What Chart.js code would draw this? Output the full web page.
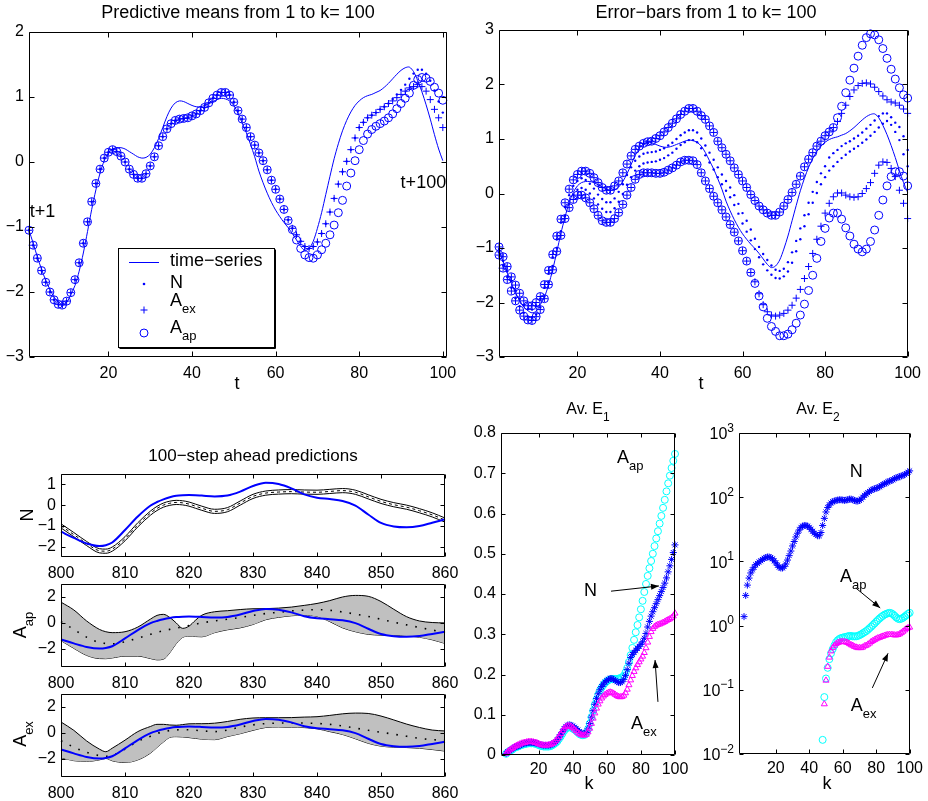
<!DOCTYPE html>
<html>
<head>
<meta charset="utf-8">
<script src="https://cdn.jsdelivr.net/npm/chart.js@4/dist/chart.umd.min.js"></script>
<style>
  body { margin: 0; background: #fff; }
  #wrap { position: relative; width: 928px; height: 801px; }
  #wrap canvas { position: absolute; left: 0; top: 0; }
</style>
</head>
<body>
<div id="wrap">
  <canvas id="predMeans" width="928" height="801"></canvas>
  <canvas id="errBars" width="928" height="801"></canvas>
  <canvas id="stepN" width="928" height="801"></canvas>
  <canvas id="stepAp" width="928" height="801"></canvas>
  <canvas id="stepEx" width="928" height="801"></canvas>
  <canvas id="avE1" width="928" height="801"></canvas>
  <canvas id="avE2" width="928" height="801"></canvas>
</div>
<script>
// ---------- data ----------
const t = Array.from({length: 100}, (_, i) => i + 1);
const tTicks = [20, 40, 60, 80, 100];

const timeSeries = [-1.05,-1.25,-1.46,-1.65,-1.82,-1.96,-2.08,-2.15,-2.19,-2.16,
  -2.04,-1.90,-1.68,-1.40,-1.07,-0.73,-0.43,-0.17,0.02,0.14,
  0.20,0.22,0.22,0.20,0.16,0.12,0.08,0.06,0.07,0.12,
  0.22,0.36,0.53,0.70,0.83,0.91,0.94,0.93,0.90,0.87,
  0.85,0.85,0.87,0.90,0.93,0.96,0.98,0.97,0.94,0.87,
  0.75,0.60,0.45,0.27,0.08,-0.14,-0.32,-0.48,-0.62,-0.74,
  -0.84,-0.93,-1.01,-1.10,-1.20,-1.30,-1.36,-1.33,-1.22,-1.02,
  -0.78,-0.50,-0.22,0.05,0.28,0.48,0.64,0.77,0.87,0.94,
  0.99,1.02,1.04,1.07,1.10,1.15,1.21,1.28,1.35,1.41,
  1.45,1.46,1.39,1.25,1.08,0.88,0.66,0.42,0.20,0.02];

// predictive means, identical for the three models up to t=62
const meanShared = [-1.05,-1.28,-1.48,-1.67,-1.85,-2.00,-2.12,-2.19,-2.20,-2.14,
  -2.01,-1.81,-1.55,-1.25,-0.92,-0.61,-0.33,-0.11,0.06,0.15,
  0.19,0.16,0.09,0.00,-0.11,-0.19,-0.25,-0.25,-0.18,-0.06,
  0.08,0.25,0.39,0.51,0.59,0.64,0.66,0.67,0.68,0.71,
  0.74,0.79,0.84,0.91,0.98,1.03,1.07,1.07,1.03,0.92,
  0.79,0.66,0.53,0.39,0.26,0.14,0.02,-0.12,-0.28,-0.42,
  -0.57,-0.73];
const meanNTail = [-0.89,-1.02,-1.12,-1.22,-1.30,-1.33,-1.30,-1.23,-1.10,-0.95,
  -0.77,-0.56,-0.34,-0.15,0.01,0.19,0.37,0.53,0.61,0.68,
  0.72,0.76,0.81,0.85,0.90,0.97,1.04,1.11,1.19,1.28,
  1.36,1.42,1.42,1.36,1.25,1.10,0.93,0.76];
const meanExTail = [-0.89,-1.02,-1.12,-1.22,-1.30,-1.33,-1.30,-1.23,-1.10,-0.95,
  -0.77,-0.56,-0.34,-0.15,0.01,0.19,0.37,0.53,0.61,0.68,
  0.72,0.76,0.81,0.85,0.90,0.94,0.99,1.04,1.09,1.14,
  1.16,1.19,1.16,1.09,0.96,0.81,0.68,0.53];
const meanApTail = [-0.90,-1.04,-1.20,-1.33,-1.43,-1.47,-1.48,-1.43,-1.35,-1.25,
  -1.12,-0.97,-0.78,-0.59,-0.37,-0.17,0.02,0.19,0.33,0.43,
  0.50,0.55,0.59,0.63,0.68,0.74,0.82,0.90,0.98,1.06,
  1.18,1.27,1.30,1.29,1.24,1.15,1.06,0.95];

// error bars (mean +/- 2 std)
const upShared = [-0.98,-1.16,-1.34,-1.53,-1.68,-1.83,-1.97,-2.06,-2.06,-2.00,
  -1.89,-1.67,-1.41,-1.12,-0.78,-0.47,-0.17,0.08,0.25,0.35,
  0.41,0.41,0.37,0.29,0.20,0.11,0.06,0.06,0.14,0.23,
  0.38,0.54,0.69,0.81,0.87,0.92,0.95,0.96,1.01,1.06,
  1.13,1.21,1.29,1.37,1.45,1.51,1.56,1.56,1.51,1.43,
  1.36,1.24,1.12,0.96,0.84,0.72,0.60,0.47,0.35,0.23,
  0.11,-0.02,-0.13,-0.23,-0.30,-0.36,-0.40,-0.40,-0.34,-0.23,
  -0.11,0.02,0.17,0.32,0.49,0.63,0.75,0.87,0.96,1.06,
  1.13,1.21];
const upExTail = [1.32,1.47,1.62,1.78,1.90,1.98,2.02,2.03,2.01,1.95,1.87,1.79,1.72,1.68,1.66,1.62,1.55,1.47];
const upApTail = [1.39,1.60,1.85,2.08,2.30,2.52,2.72,2.86,2.93,2.91,2.82,2.66,2.48,2.28,2.10,1.94,1.81,1.75];
const loShared = [-1.13,-1.37,-1.58,-1.79,-1.97,-2.14,-2.25,-2.32,-2.33,-2.26,
  -2.13,-1.93,-1.67,-1.40,-1.06,-0.77,-0.46,-0.26,-0.11,-0.03,
  -0.03,-0.08,-0.17,-0.28,-0.40,-0.50,-0.53,-0.53,-0.46,-0.35,
  -0.20,-0.03,0.11,0.26,0.35,0.38,0.38,0.38,0.37,0.37,
  0.39,0.43,0.47,0.52,0.58,0.61,0.61,0.60,0.53,0.38,
  0.23,0.09,-0.05,-0.17,-0.30,-0.43,-0.57,-0.71,-0.87,-1.05,
  -1.24,-1.45];
const loExTail = [-1.62,-1.84,-2.04,-2.17,-2.23,-2.25,-2.23,-2.20,-2.14,-2.05,
  -1.92,-1.76,-1.56,-1.34,-1.10,-0.84,-0.60,-0.36,-0.18,-0.06,
  0.01,0.01,-0.03,-0.06,-0.07,-0.06,0.00,0.09,0.20,0.37,
  0.52,0.58,0.57,0.46,0.31,0.06,-0.18,-0.46];
const loApTail = [-1.65,-1.88,-2.08,-2.29,-2.44,-2.53,-2.61,-2.61,-2.58,-2.50,
  -2.38,-2.23,-2.03,-1.78,-1.50,-1.19,-0.88,-0.64,-0.45,-0.36,
  -0.36,-0.47,-0.63,-0.78,-0.93,-1.02,-1.07,-1.02,-0.88,-0.67,
  -0.40,-0.12,0.14,0.31,0.40,0.40,0.32,0.14];
const nUp = [-1.02,-1.24,-1.43,-1.61,-1.78,-1.93,-2.05,-2.12,-2.13,-2.06,
  -1.93,-1.73,-1.47,-1.17,-0.84,-0.53,-0.25,-0.03,0.14,0.23,
  0.28,0.25,0.18,0.09,-0.02,-0.10,-0.16,-0.16,-0.09,0.03,
  0.17,0.34,0.48,0.60,0.68,0.73,0.75,0.76,0.77,0.80,
  0.83,0.88,0.93,1.00,1.07,1.12,1.16,1.16,1.12,1.01,
  0.88,0.75,0.62,0.48,0.35,0.23,0.11,-0.03,-0.19,-0.36,
  -0.50,-0.66,-0.83,-0.98,-1.11,-1.22,-1.32,-1.40,-1.42,-1.38,
  -1.26,-1.08,-0.87,-0.64,-0.40,-0.17,0.03,0.21,0.37,0.50,
  0.66,0.74,0.80,0.87,0.92,0.96,1.01,1.06,1.12,1.19,
  1.26,1.34,1.42,1.47,1.47,1.40,1.30,1.22,1.05,0.80];
const nLo = [-1.08,-1.32,-1.53,-1.73,-1.92,-2.07,-2.19,-2.26,-2.27,-2.22,
  -2.09,-1.89,-1.63,-1.33,-1.00,-0.69,-0.41,-0.19,-0.02,0.07,
  0.10,0.07,0.00,-0.09,-0.20,-0.28,-0.34,-0.34,-0.27,-0.15,
  -0.01,0.16,0.30,0.42,0.50,0.55,0.57,0.58,0.59,0.62,
  0.65,0.70,0.75,0.82,0.89,0.94,0.98,0.98,0.94,0.83,
  0.70,0.57,0.44,0.30,0.17,0.05,-0.07,-0.21,-0.37,-0.55,
  -0.70,-0.86,-1.02,-1.17,-1.30,-1.41,-1.49,-1.55,-1.56,-1.52,
  -1.43,-1.27,-1.06,-0.84,-0.60,-0.38,-0.17,0.01,0.17,0.30,
  0.42,0.50,0.58,0.65,0.71,0.77,0.82,0.87,0.93,0.99,
  1.06,1.13,1.21,1.28,1.33,1.26,1.13,0.98,0.72,0.50];

const meanN = meanShared.concat(meanNTail);
const meanEx = meanShared.concat(meanExTail);
const meanAp = meanShared.concat(meanApTail);
const exUp = upShared.concat(upExTail);
const apUp = upShared.concat(upApTail);
const exLo = loShared.concat(loExTail);
const apLo = loShared.concat(loApTail);

// 100-step ahead predictions, x = 800..860
const steps = [800,802,804,806,807,808,810,812,814,815,816,817,818,819,820,821,822,824,826,828,
  830,832,834,836,838,840,842,844,846,848,850,852,854,856,858,860];
const stepTicks = [800, 810, 820, 830, 840, 850, 860];
const truth = [-1.28,-1.58,-1.85,-1.97,-1.93,-1.80,-1.20,-0.55,-0.02,0.15,0.28,0.38,0.45,0.48,0.49,0.48,0.46,0.42,0.46,0.65,
  0.92,1.08,1.02,0.81,0.52,0.36,0.29,0.20,-0.02,-0.45,-0.86,-1.03,-1.07,-1.01,-0.85,-0.68];
const stepNMean = [-1.00,-1.42,-1.85,-2.20,-2.22,-2.12,-1.62,-0.95,-0.38,-0.16,0.00,0.09,0.13,0.11,0.05,-0.05,-0.15,-0.30,-0.22,0.10,
  0.42,0.58,0.63,0.65,0.63,0.62,0.66,0.70,0.62,0.40,0.18,0.02,-0.10,-0.27,-0.47,-0.72];
const stepNUp = [-0.90,-1.32,-1.75,-2.10,-2.12,-2.02,-1.52,-0.85,-0.28,-0.06,0.10,0.19,0.23,0.21,0.15,0.05,-0.05,-0.20,-0.12,0.20,
  0.52,0.68,0.73,0.75,0.73,0.72,0.76,0.80,0.72,0.50,0.28,0.12,0.00,-0.17,-0.37,-0.62];
const stepNLo = [-1.10,-1.52,-1.95,-2.30,-2.32,-2.22,-1.72,-1.05,-0.48,-0.26,-0.10,-0.01,0.03,0.01,-0.05,-0.15,-0.25,-0.40,-0.32,0.00,
  0.32,0.48,0.53,0.55,0.53,0.52,0.56,0.60,0.52,0.30,0.08,-0.08,-0.20,-0.37,-0.57,-0.82];
const stepApMean = [0.10,-0.50,-1.10,-1.52,-1.58,-1.62,-1.45,-1.17,-0.88,-0.74,-0.60,-0.50,-0.40,-0.30,-0.20,-0.10,0.00,0.15,0.28,0.42,
  0.58,0.72,0.82,0.92,0.99,1.02,0.97,0.84,0.68,0.50,0.28,0.05,-0.15,-0.35,-0.55,-0.72];
const stepApUp = [1.60,1.00,0.15,-0.50,-0.68,-0.75,-0.68,-0.32,0.30,0.58,0.66,0.42,0.00,-0.42,-0.25,0.20,0.59,0.86,0.94,1.03,
  1.09,1.10,1.14,1.22,1.35,1.50,1.72,2.00,2.12,2.05,1.65,1.05,0.48,0.15,0.03,0.00];
const stepApLo = [-1.37,-1.96,-2.50,-2.75,-2.76,-2.70,-2.56,-2.56,-2.75,-2.85,-2.80,-2.30,-1.60,-1.12,-1.02,-1.05,-1.07,-0.75,-0.53,-0.38,
  -0.12,0.25,0.43,0.55,0.60,0.50,0.10,-0.38,-0.68,-0.88,-0.94,-0.95,-1.01,-1.10,-1.30,-1.58];
const stepExMean = [-0.60,-1.10,-1.50,-1.75,-1.80,-1.75,-1.25,-0.65,-0.25,-0.05,0.10,0.18,0.23,0.25,0.24,0.21,0.16,0.10,0.22,0.45,
  0.62,0.72,0.76,0.77,0.76,0.73,0.66,0.53,0.37,0.20,0.05,-0.10,-0.26,-0.42,-0.52,-0.56];
const stepExUp = [0.84,0.20,-0.62,-1.25,-1.45,-1.18,-0.56,0.10,0.50,0.66,0.66,0.61,0.59,0.64,0.70,0.71,0.71,0.75,0.88,1.05,
  1.15,1.17,1.17,1.18,1.22,1.25,1.35,1.47,1.53,1.50,1.30,1.00,0.68,0.42,0.22,0.15];
const stepExLo = [-1.91,-2.14,-2.20,-2.08,-1.97,-2.15,-2.28,-2.08,-1.55,-1.12,-0.70,-0.35,-0.29,-0.31,-0.36,-0.42,-0.48,-0.52,-0.28,-0.06,
  0.20,0.42,0.46,0.44,0.41,0.32,0.10,-0.12,-0.45,-0.80,-1.02,-1.10,-1.13,-1.18,-1.28,-1.40];

// Av. E1, k = 1..100
const e1N = [0.004,0.008,0.011,0.013,0.016,0.019,0.021,0.022,0.024,0.026,
  0.028,0.029,0.030,0.031,0.031,0.031,0.031,0.030,0.029,0.028,
  0.026,0.025,0.024,0.024,0.024,0.024,0.025,0.027,0.030,0.033,
  0.038,0.044,0.051,0.058,0.065,0.071,0.074,0.075,0.074,0.072,
  0.069,0.066,0.062,0.058,0.055,0.053,0.053,0.056,0.065,0.078,
  0.094,0.110,0.126,0.140,0.152,0.162,0.170,0.176,0.181,0.185,
  0.188,0.190,0.190,0.188,0.185,0.182,0.180,0.180,0.182,0.188,
  0.198,0.212,0.228,0.242,0.250,0.255,0.260,0.265,0.270,0.275,
  0.281,0.290,0.302,0.318,0.332,0.345,0.356,0.366,0.376,0.386,
  0.396,0.406,0.416,0.427,0.440,0.455,0.470,0.486,0.503,0.522];
const e1Ap = [0.003,0.007,0.010,0.012,0.015,0.018,0.020,0.021,0.023,0.025,
  0.026,0.027,0.028,0.029,0.029,0.029,0.029,0.028,0.027,0.025,
  0.023,0.022,0.021,0.021,0.021,0.021,0.022,0.024,0.027,0.030,
  0.034,0.040,0.046,0.053,0.060,0.065,0.068,0.069,0.068,0.066,
  0.063,0.060,0.056,0.052,0.050,0.049,0.050,0.054,0.064,0.078,
  0.094,0.110,0.125,0.138,0.150,0.160,0.168,0.174,0.179,0.183,
  0.186,0.188,0.189,0.189,0.189,0.189,0.190,0.191,0.193,0.197,
  0.205,0.216,0.231,0.248,0.266,0.286,0.305,0.323,0.342,0.362,
  0.383,0.405,0.425,0.445,0.464,0.482,0.500,0.519,0.538,0.556,
  0.575,0.594,0.614,0.634,0.655,0.675,0.694,0.713,0.731,0.748];
const e1Ex = [0.004,0.009,0.012,0.015,0.018,0.021,0.023,0.025,0.027,0.029,
  0.030,0.031,0.032,0.033,0.033,0.033,0.032,0.031,0.030,0.028,
  0.026,0.025,0.024,0.024,0.024,0.025,0.026,0.028,0.031,0.035,
  0.040,0.046,0.053,0.060,0.066,0.070,0.072,0.072,0.071,0.068,
  0.064,0.060,0.056,0.053,0.050,0.049,0.049,0.051,0.057,0.066,
  0.078,0.091,0.104,0.116,0.126,0.134,0.141,0.146,0.150,0.153,
  0.155,0.156,0.155,0.153,0.150,0.147,0.145,0.144,0.145,0.148,
  0.154,0.163,0.174,0.186,0.197,0.207,0.216,0.224,0.231,0.238,
  0.245,0.254,0.266,0.280,0.294,0.306,0.314,0.319,0.322,0.324,
  0.325,0.327,0.329,0.331,0.334,0.336,0.338,0.341,0.345,0.352];
const e1Ticks = [0, 0.1, 0.2, 0.3, 0.4, 0.5, 0.6, 0.7, 0.8];

// Av. E2 (log scale)
const e2N = [1.38,2.95,4.27,5.5,6.6,7.4,8.1,8.9,9.3,9.8,
  10.2,10.7,11.2,11.5,11.7,11.7,11.5,11.0,10.2,9.5,
  8.7,8.1,7.9,7.9,8.3,9.1,10.5,12.3,14.5,17.4,
  20.4,24.0,27.5,30.9,33.9,35.5,36.3,36.3,35.5,33.9,
  31.6,29.5,27.5,26.3,25.1,25.1,28.2,36.3,46.8,58.9,
  69.2,75.9,81.3,85.1,87.1,89.1,90.2,91.2,91.2,90.2,
  89.1,90.2,91.2,93.3,93.3,91.2,89.1,87.1,87.1,89.1,
  93.3,100,107,112,117,123,129,132,135,138,
  141,145,151,158,162,166,174,178,182,186,
  195,200,204,209,214,219,224,234,245,257];
const kAp = t.slice(47);   // k = 48..100
const e2Ap = [0.0166,0.077,0.15,0.22,0.30,0.37,0.43,0.49,0.55,0.59,
  0.62,0.64,0.65,0.66,0.67,0.68,0.69,0.69,0.68,0.68,
  0.68,0.69,0.71,0.73,0.76,0.79,0.82,0.86,0.91,0.96,
  1.02,1.08,1.15,1.22,1.29,1.36,1.42,1.48,1.52,1.56,
  1.58,1.56,1.50,1.42,1.34,1.28,1.26,1.28,1.32,1.38,
  1.45,1.52,1.58];
const kEx = t.slice(48);   // k = 49..100
const e2Ex = [0.060,0.14,0.23,0.32,0.40,0.45,0.49,0.52,0.54,0.55,
  0.56,0.56,0.56,0.55,0.54,0.52,0.50,0.49,0.47,0.46,
  0.45,0.45,0.45,0.46,0.48,0.49,0.51,0.53,0.56,0.58,
  0.60,0.62,0.64,0.65,0.67,0.68,0.70,0.71,0.72,0.72,
  0.72,0.72,0.71,0.71,0.72,0.74,0.77,0.81,0.85,0.89,
  0.92,0.94];
const e2Ticks = [0.01, 0.1, 1, 10, 100, 1000];

// ---------- drawing helpers ----------
const FONT = '"Liberation Sans", Arial, sans-serif';
const BLUE = '#0000ff', CYAN = '#00ffff', MAGENTA = '#ff00ff';

const pts = (xs, ys) => xs.map((x, i) => ({x, y: ys[i]}));
const minus = v => (v < 0 ? '\u2212' + (-v) : String(v));

function drawText(ctx, s, px, py, o) {
  const size = o.size || 18, small = Math.round(size * 0.72);
  ctx.save();
  ctx.translate(px, py);
  if (o.rot) ctx.rotate(o.rot);
  ctx.fillStyle = '#000';
  ctx.textBaseline = 'middle';
  ctx.textAlign = 'left';
  ctx.font = size + 'px ' + FONT;
  const w = ctx.measureText(s).width;
  const extra = o.sub || o.sup;
  let ew = 0;
  if (extra) { ctx.font = small + 'px ' + FONT; ew = ctx.measureText(extra).width; }
  const x0 = o.align === 'center' ? -(w + ew) / 2 : o.align === 'right' ? -(w + ew) : 0;
  ctx.font = size + 'px ' + FONT;
  ctx.fillText(s, x0, 0);
  if (extra) {
    ctx.font = small + 'px ' + FONT;
    ctx.fillText(extra, x0 + w, o.sub ? size * 0.45 : -size * 0.42);
  }
  ctx.restore();
}

const decorPlugin = {
  id: 'decor',
  afterDraw(chart, args, o) {
    const {ctx, chartArea: a} = chart;
    const xs = chart.scales.x, ys = chart.scales.y;
    ctx.save();
    ctx.strokeStyle = '#000';
    ctx.lineWidth = 1;
    const L = Math.round(a.left) + 0.5, R = Math.round(a.right) - 0.5;
    const T = Math.round(a.top) + 0.5, B = Math.round(a.bottom) - 0.5;
    const tl = o.tick || 5;
    ctx.beginPath();
    ctx.rect(L, T, R - L, B - T);
    xs.ticks.forEach(tk => {
      const p = Math.round(xs.getPixelForValue(tk.value)) + 0.5;
      ctx.moveTo(p, B); ctx.lineTo(p, B - tl);
      ctx.moveTo(p, T); ctx.lineTo(p, T + tl);
    });
    ys.ticks.forEach(tk => {
      const p = Math.round(ys.getPixelForValue(tk.value)) + 0.5;
      ctx.moveTo(L, p); ctx.lineTo(L + tl, p);
      ctx.moveTo(R, p); ctx.lineTo(R - tl, p);
    });
    ctx.stroke();

    if (o.logLabels) {
      ys.ticks.forEach(tk => {
        const e = Math.round(Math.log10(tk.value));
        drawText(ctx, '10', a.left - 5, ys.getPixelForValue(tk.value) + 2, {size: 16, sup: minus(e), align: 'right'});
      });
    }

    if (o.legend) {
      const g = o.legend;
      const lx = Math.round(xs.getPixelForValue(g.box[0])), ty = Math.round(ys.getPixelForValue(g.box[1]));
      const rx = Math.round(xs.getPixelForValue(g.box[2])), by = Math.round(ys.getPixelForValue(g.box[3]));
      ctx.fillStyle = '#fff';
      ctx.fillRect(lx, ty, rx - lx, by - ty);
      ctx.strokeStyle = '#000';
      ctx.strokeRect(lx + 0.5, ty + 0.5, rx - lx, by - ty);
      ctx.beginPath();
      ctx.moveTo(lx + 1.5, by + 1.5); ctx.lineTo(rx + 1.5, by + 1.5); ctx.lineTo(rx + 1.5, ty + 1.5);
      ctx.stroke();
      ctx.strokeStyle = BLUE;
      ctx.fillStyle = BLUE;
      g.items.forEach(it => {
        const mx = lx + 26, my = ty + it.my;
        ctx.beginPath();
        if (it.kind === 'line') { ctx.moveTo(lx + 11, my + 0.5); ctx.lineTo(lx + 41, my + 0.5); ctx.stroke(); }
        if (it.kind === 'dot') { ctx.arc(mx, my, 1.3, 0, 2 * Math.PI); ctx.fill(); }
        if (it.kind === 'plus') { ctx.moveTo(mx - 3.5, my); ctx.lineTo(mx + 3.5, my); ctx.moveTo(mx, my - 3.5); ctx.lineTo(mx, my + 3.5); ctx.stroke(); }
        if (it.kind === 'ring') { ctx.arc(mx, my, 4, 0, 2 * Math.PI); ctx.stroke(); }
        drawText(ctx, it.text, lx + 52, ty + it.ty, {size: 18, sub: it.sub});
      });
    }

    (o.texts || []).forEach(tx => {
      let px = tx.x, py = tx.y;
      if (tx.data) { px = xs.getPixelForValue(tx.x); py = ys.getPixelForValue(tx.y); }
      drawText(ctx, tx.text, px, py, tx);
    });

    ctx.strokeStyle = '#000';
    ctx.fillStyle = '#000';
    (o.arrows || []).forEach(ar => {
      const x1 = xs.getPixelForValue(ar[0][0]), y1 = ys.getPixelForValue(ar[0][1]);
      const x2 = xs.getPixelForValue(ar[1][0]), y2 = ys.getPixelForValue(ar[1][1]);
      const ang = Math.atan2(y2 - y1, x2 - x1);
      ctx.beginPath(); ctx.moveTo(x1, y1); ctx.lineTo(x2, y2); ctx.stroke();
      ctx.beginPath();
      ctx.moveTo(x2, y2);
      ctx.lineTo(x2 - 8 * Math.cos(ang) + 3 * Math.sin(ang), y2 - 8 * Math.sin(ang) - 3 * Math.cos(ang));
      ctx.lineTo(x2 - 8 * Math.cos(ang) - 3 * Math.sin(ang), y2 - 8 * Math.sin(ang) + 3 * Math.cos(ang));
      ctx.closePath(); ctx.fill();
    });
    ctx.restore();
  }
};

function axis(min, max, ticks, extra) {
  return Object.assign({
    type: 'linear', min, max,
    grid: {display: false, drawTicks: false},
    border: {display: false},
    afterBuildTicks: s => { s.ticks = ticks.map(v => ({value: v})); },
    ticks: {font: {family: FONT, size: 16}, color: '#000', padding: 5, autoSkip: false, maxRotation: 0,
      callback: v => minus(v)}
  }, extra || {});
}

function makeChart(id, area, xAxis, yAxis, datasets, decor, xPad) {
  const [x0, y0, x1, y1] = area;
  xAxis.afterFit = s => { s.height = 801 - y1; };
  yAxis.afterFit = s => { s.width = x0; };
  xAxis.ticks.padding = xPad || 7;
  return new Chart(document.getElementById(id), {
    type: 'line',
    data: {datasets},
    options: {
      responsive: false, animation: false, devicePixelRatio: 1,
      layout: {padding: {left: 0, top: y0, right: 928 - x1, bottom: 0}},
      plugins: {legend: {display: false}, tooltip: {enabled: false}, decor},
      scales: {x: xAxis, y: yAxis}
    },
    plugins: [decorPlugin]
  });
}

const curve = (xs, ys, color, width, extra) => Object.assign({
  data: pts(xs, ys), borderColor: color, borderWidth: width, pointRadius: 0,
  fill: false, cubicInterpolationMode: 'monotone', clip: 4
}, extra || {});
const marks = (xs, ys, color, style, r, extra) => Object.assign({
  data: pts(xs, ys), showLine: false, pointStyle: style, pointRadius: r,
  pointBorderColor: color, pointBackgroundColor: 'rgba(0,0,0,0)', pointBorderWidth: 1, clip: 10
}, extra || {});
const dots = (xs, ys) => marks(xs, ys, BLUE, 'circle', 1.2, {pointBackgroundColor: BLUE, pointBorderWidth: 0});

// ---------- Predictive means ----------
makeChart('predMeans', [29, 32, 447, 357],
  axis(1, 101, tTicks), axis(-3, 2, [-3, -2, -1, 0, 1, 2]),
  [
    curve(t, timeSeries, BLUE, 1, {tension: 0.3, cubicInterpolationMode: 'default'}),
    dots(t, meanN),
    marks(t, meanEx, BLUE, 'cross', 3.5),
    marks(t, meanAp, BLUE, 'circle', 4)
  ],
  {
    texts: [
      {text: 'Predictive means from 1 to k= 100', x: 238, y: 13, align: 'center'},
      {text: 't', x: 237, y: 384, align: 'center'},
      {text: 't+1', x: 1.2, y: -0.77, data: true},
      {text: 't+100', x: 100.8, y: -0.32, data: true, align: 'right'}
    ],
    legend: {
      box: [22.3, -1.32, 59.6, -2.85],
      items: [
        {kind: 'line', my: 14, ty: 13, text: 'time\u2212series'},
        {kind: 'dot', my: 36, ty: 35, text: 'N'},
        {kind: 'plus', my: 62, ty: 53, text: 'A', sub: 'ex'},
        {kind: 'ring', my: 85, ty: 80, text: 'A', sub: 'ap'}
      ]
    }
  });

// ---------- Error bars ----------
makeChart('errBars', [499, 30, 913, 357],
  axis(1, 100, tTicks), axis(-3, 3, [-3, -2, -1, 0, 1, 2, 3]),
  [
    curve(t, timeSeries, BLUE, 1, {tension: 0.3, cubicInterpolationMode: 'default'}),
    dots(t, nUp), dots(t, nLo),
    marks(t, exUp, BLUE, 'cross', 3.5), marks(t, exLo, BLUE, 'cross', 3.5),
    marks(t, apUp, BLUE, 'circle', 4), marks(t, apLo, BLUE, 'circle', 4)
  ],
  {
    texts: [
      {text: 'Error\u2212bars from 1 to k= 100', x: 706, y: 13, align: 'center'},
      {text: 't', x: 701, y: 384, align: 'center'}
    ]
  });

// ---------- 100-step ahead predictions ----------
function stepPanel(id, area, yMin, yTicks, mean, up, lo, isN, label) {
  const sets = [curve(steps, truth, BLUE, 2)];
  if (isN) {
    sets.push(curve(steps, mean, '#000', 1, {borderDash: [3, 3]}));
    sets.push(curve(steps, up, '#000', 1), curve(steps, lo, '#000', 1));
  } else {
    sets.push(curve(steps, mean, '#000', 1.6, {borderDash: [1.6, 8]}));
    sets.push(curve(steps, up, '#000', 1, {fill: '+1', backgroundColor: '#c0c0c0'}), curve(steps, lo, '#000', 1));
  }
  return makeChart(id, area, axis(800, 860, stepTicks), axis(yMin, yTicks === null ? 1.5 : 3, yTicks || [-2, -1, 0, 1]), sets, label);
}
stepPanel('stepN', [61, 474, 445, 557], -2.5, null, stepNMean, stepNUp, stepNLo, true, {
  tick: 4,
  texts: [
    {text: '100\u2212step ahead predictions', x: 253, y: 456, size: 17, align: 'center'},
    {text: 'N', x: 28, y: 515, rot: -Math.PI / 2, align: 'center'}
  ]
});
stepPanel('stepAp', [61, 584, 445, 667], -3.4, [-2, 0, 2], stepApMean, stepApUp, stepApLo, false, {
  tick: 4,
  texts: [{text: 'A', sub: 'ap', x: 21, y: 625, rot: -Math.PI / 2, align: 'center'}]
});
stepPanel('stepEx', [61, 694, 445, 777], -3.4, [-2, 0, 2], stepExMean, stepExUp, stepExLo, false, {
  tick: 4,
  texts: [{text: 'A', sub: 'ex', x: 21, y: 734, rot: -Math.PI / 2, align: 'center'}]
});

// ---------- Av. E1 ----------
makeChart('avE1', [501, 433, 675, 755],
  axis(-2, 100, tTicks), axis(0, 0.8, e1Ticks),
  [
    marks(t, e1Ex, MAGENTA, 'triangle', 3.5),
    marks(t, e1N, BLUE, 'star', 3.5),
    marks(t, e1Ap, CYAN, 'circle', 3.5)
  ],
  {
    tick: 4,
    texts: [
      {text: 'Av. E', sub: '1', x: 588, y: 410, size: 16, align: 'center'},
      {text: 'k', x: 589, y: 784, align: 'center'},
      {text: 'A', sub: 'ap', x: 66, y: 0.738, data: true},
      {text: 'N', x: 46.6, y: 0.407, data: true},
      {text: 'A', sub: 'ex', x: 74.2, y: 0.077, data: true}
    ],
    arrows: [[[62.5, 0.407], [90.6, 0.42]], [[90, 0.132], [88.3, 0.236]]]
  }, 5);

// ---------- Av. E2 ----------
makeChart('avE2', [739, 433, 913, 754],
  axis(-2, 100, tTicks),
  axis(0.01, 1000, e2Ticks, {type: 'logarithmic', ticks: {font: {family: FONT, size: 16}, color: '#000', padding: 5, callback: () => ''}}),
  [
    marks(kEx, e2Ex, MAGENTA, 'triangle', 3.5),
    marks(t, e2N, BLUE, 'star', 3.5),
    marks(kAp, e2Ap, CYAN, 'circle', 3.5)
  ],
  {
    tick: 4,
    logLabels: true,
    texts: [
      {text: 'Av. E', sub: '2', x: 818, y: 410, size: 16, align: 'center'},
      {text: 'k', x: 827, y: 784, align: 'center'},
      {text: 'N', x: 64.2, y: 247, data: true},
      {text: 'A', sub: 'ap', x: 58.4, y: 5.7, data: true},
      {text: 'A', sub: 'ex', x: 64.8, y: 0.056, data: true}
    ],
    arrows: [[[67.8, 3.85], [82.4, 1.88]], [[77.7, 0.107], [87.1, 0.37]]]
  }, 5);
</script>
</body>
</html>
